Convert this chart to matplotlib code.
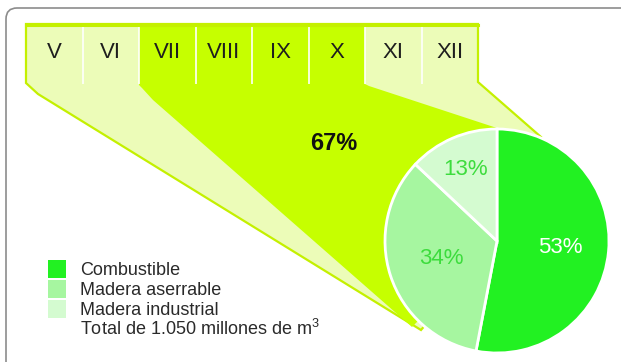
import matplotlib
matplotlib.use("Agg")
import matplotlib.pyplot as plt
import numpy as np
from matplotlib.patches import Polygon, Rectangle, FancyBboxPatch

plt.rcParams["font.family"] = ["Liberation Sans", "DejaVu Sans"]
plt.rcParams["mathtext.fontset"] = "custom"
plt.rcParams["mathtext.rm"] = "Liberation Sans"

# ---- data ----
months = ["V", "VI", "VII", "VIII", "IX", "X", "XI", "XII"]
peak_months = ["VII", "VIII", "IX", "X"]
peak_share = 67
uses = ["Combustible", "Madera aserrable", "Madera industrial"]
shares = [53, 34, 13]
total_note = "Total de 1.050 millones de m$^3$"

# ---- styles ----
PALE = "#ecfcb8"
LIME = "#c6ff00"
EDGE = "#c4f000"
pie_colors = ["#22f122", "#a6f6a0", "#d4fbd0"]
pct_colors = ["white", "#3ddc3d", "#3ddc3d"]
pct_dist = [0.57, 0.52, 0.70]
narrow = ["Liberation Sans Narrow", "Liberation Sans", "DejaVu Sans"]

W, H = 621, 362
fig = plt.figure(figsize=(W / 100, H / 100), dpi=100)
ax = fig.add_axes([0, 0, 1, 1])

# rounded panel border
ax.add_patch(FancyBboxPatch((6, 8), 700, 400, boxstyle="round,pad=0,rounding_size=11",
                            fc="white", ec="#8c8c8c", lw=1.2, zorder=0))

# month strip layout
x0, cw = 26, 56.5
top, bot = 24, 83
col = lambda m: x0 + months.index(m) * cw
xr = x0 + len(months) * cw
lx0, lx1 = col(peak_months[0]), col(peak_months[-1]) + cw

# pie placement
cx, cy, r = 497, 241, 112

# pale funnel (whole year strip down to the pie)
ax.add_patch(Polygon([(x0, top), (xr, top), (xr, bot - 1), (541, 137), (cx, cy),
                      (421, 330), (38, 94), (x0, bot)],
                     closed=True, fc=PALE, ec=EDGE, lw=1.6, zorder=1))
# lime funnel for the peak months
ax.add_patch(Polygon([(lx0, top), (lx1, top), (lx1, bot + 1), (369, 86), (503, 130),
                      (cx, cy), (412, 327), (153, 100), (lx0 + 3, 88), (lx0, bot + 2)],
                     closed=True, fc=LIME, ec="none", zorder=2))
ax.plot([x0, xr], [top + 0.5, top + 0.5], color=EDGE, lw=2.2, zorder=3)

# column dividers and month labels
for i, m in enumerate(months):
    if i > 0:
        ax.plot([x0 + i * cw] * 2, [28, bot], color="white", lw=1.4, alpha=0.85, zorder=3)
    ax.text(x0 + (i + 0.5) * cw, 53, m, ha="center", va="center",
            fontsize=16, color="#1e1e1e", zorder=4)

ax.text(334, 143, f"{peak_share}%", ha="center", va="center", fontsize=17,
        fontweight="bold", family=narrow, color="#111111", zorder=4)

# pie (y axis is inverted, so counterclockwise here reads clockwise on screen)
wedges, _ = ax.pie(shares, colors=pie_colors, startangle=-90, counterclock=True,
                   center=(cx, cy), radius=r, frame=True,
                   wedgeprops=dict(edgecolor="white", linewidth=2))
for w, s, c, d in zip(wedges, shares, pct_colors, pct_dist):
    w.set_zorder(5)
    a = np.deg2rad((w.theta1 + w.theta2) / 2)
    ax.text(cx + d * r * np.cos(a), cy + d * r * np.sin(a), f"{s}%", ha="center",
            va="center", fontsize=16, family=narrow, color=c, zorder=6)

# legend
for i, (u, c) in enumerate(zip(uses, pie_colors)):
    ax.add_patch(Rectangle((48, 260 + i * 20), 18, 18, fc=c, ec="none", zorder=4))
    ax.text(80, 275 + i * 20, u, fontsize=13, va="baseline", color="#2a2a2a", zorder=4)
ax.text(80, 335, total_note, fontsize=13, va="baseline", color="#2a2a2a", zorder=4)

ax.set_xlim(0, W)
ax.set_ylim(H, 0)
ax.axis("off")
fig.savefig("out.png", dpi=100)
